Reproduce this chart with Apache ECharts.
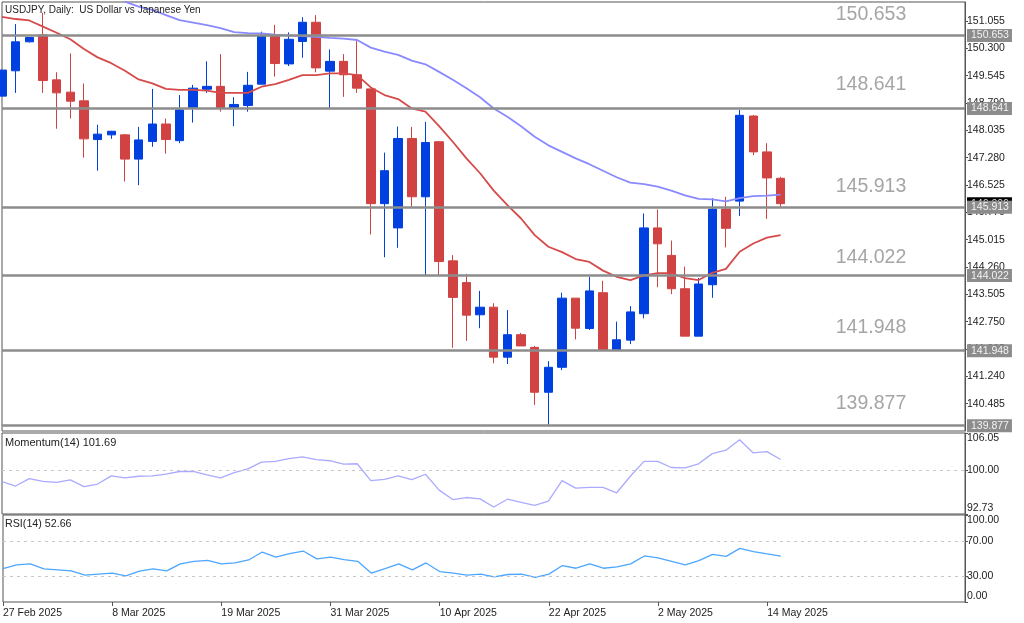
<!DOCTYPE html>
<html>
<head>
<meta charset="utf-8">
<title>USDJPY Daily</title>
<style>
html, body { margin: 0; padding: 0; background: #fff; }
#chart { width: 1024px; height: 623px; }
</style>
<script src="https://cdn.jsdelivr.net/npm/echarts@6/dist/echarts.min.js"></script>
</head>
<body>
<div id="chart"></div>
<script>
// candles, oldest first
const opens = [148.98,149.68,150.48,150.67,149.43,149.09,148.85,147.78,147.91,147.91,147.24,147.73,148.21,147.75,148.65,149.17,149.25,148.66,148.72,149.31,150.64,149.87,150.49,151.02,149.67,149.94,149.57,149.18,146.01,145.34,147.81,146.20,147.72,144.43,143.83,142.94,143.15,141.77,142.39,142.04,140.80,141.49,143.40,142.56,143.55,141.97,142.24,142.97,145.34,144.58,143.66,142.35,143.77,145.86,146.08,148.43,147.44,146.71];
const closes = [149.70,150.48,150.60,149.41,149.07,148.84,147.80,147.93,148.01,147.24,147.77,148.21,147.78,148.60,149.20,149.25,148.65,148.75,149.28,150.64,149.88,150.55,151.02,149.76,149.94,149.57,149.20,146.01,146.92,147.81,146.20,147.70,144.41,143.42,142.93,143.15,141.77,142.39,142.08,140.80,141.49,143.40,142.57,143.60,141.97,142.25,143.02,145.34,144.90,143.66,142.35,143.79,145.86,145.33,148.45,147.44,146.72,146.01];
const lows = [148.98,149.07,150.46,149.07,148.08,148.36,147.28,146.92,147.80,146.62,146.52,147.58,147.39,147.68,148.25,149.07,148.55,148.15,148.55,149.31,149.52,149.81,150.04,149.64,148.64,148.96,149.07,145.16,144.53,144.79,145.93,144.04,144.04,142.03,142.22,142.57,141.60,141.58,142.08,140.45,139.90,141.41,142.26,142.52,141.97,141.97,142.13,142.84,143.70,143.51,142.35,142.35,143.41,144.80,145.67,147.35,145.59,145.91];
const highs = [149.70,150.97,150.61,151.28,149.64,150.16,149.33,148.19,148.02,147.93,148.13,149.18,148.36,149.01,149.29,149.94,150.14,148.95,149.65,150.76,150.95,150.74,151.16,151.22,150.27,150.14,150.50,149.18,147.42,148.14,148.13,148.27,147.74,144.59,144.07,143.60,143.26,143.07,142.44,142.08,141.66,143.55,143.40,143.99,143.88,142.75,143.18,145.74,145.85,144.99,144.27,143.96,146.16,146.20,148.60,148.46,147.68,146.75];

// moving averages
const maRed = [151.17,151.11,151.07,150.90,150.73,150.55,150.28,150.05,149.89,149.68,149.44,149.33,149.18,149.15,149.15,149.13,149.07,149.07,149.07,149.24,149.31,149.43,149.56,149.56,149.61,149.61,149.56,149.22,149.01,148.90,148.64,148.55,148.15,147.72,147.26,146.85,146.37,145.97,145.60,145.14,144.82,144.67,144.48,144.40,144.16,143.99,143.90,144.03,144.09,144.09,143.95,143.90,144.10,144.21,144.68,144.91,145.07,145.14];
const maBlue = [null,null,null,null,null,null,null,null,null,151.59,151.45,151.36,151.22,151.08,151.01,150.94,150.86,150.75,150.72,150.71,150.68,150.66,150.64,150.62,150.59,150.57,150.53,150.32,150.21,150.12,149.96,149.86,149.65,149.43,149.20,148.95,148.64,148.41,148.15,147.86,147.62,147.44,147.26,147.10,146.92,146.74,146.59,146.55,146.48,146.37,146.24,146.14,146.13,146.07,146.16,146.22,146.23,146.26];

// indicators
const momentum = [98.05,97.33,98.55,98.11,97.94,98.33,97.22,97.66,98.99,98.66,98.94,98.99,99.27,99.72,99.72,99.16,98.66,99.55,100.16,101.27,101.38,101.83,102.11,101.66,101.49,100.94,100.99,98.22,98.44,98.99,98.38,99.27,96.66,95.11,95.44,95.22,93.88,95.16,94.66,94.16,94.83,98.22,96.99,97.11,97.11,96.22,98.94,101.38,101.38,100.38,100.33,100.99,102.66,103.22,104.94,102.77,102.99,101.69];
const rsi = [38.4,42.6,43.8,38.0,36.9,35.8,30.8,32.0,33.1,30.1,35.4,38.0,35.8,43.8,46.8,47.9,43.8,44.9,48.3,57.4,51.7,55.5,58.6,49.5,51.7,48.7,46.8,33.1,38.4,43.8,36.9,44.9,35.0,33.1,30.8,32.0,28.9,31.6,32.0,28.2,32.0,41.9,38.8,43.8,38.8,40.3,43.8,52.9,50.6,46.8,42.6,47.6,54.8,52.5,61.6,57.8,55.2,52.66];

// horizontal levels and current price
const levels = [150.653,148.641,145.913,144.022,141.948,139.877];
const lastPrice = 146.006;

// axis ticks
const priceTicks = [151.055,150.300,149.545,148.790,148.035,147.280,146.525,145.770,145.015,144.260,143.505,142.750,141.995,141.240,140.485];
const momentumTicks = [92.73,100,106.05];
const rsiTicks = [0,30,70,100];
const dateTickIndex = [0,8,16,24,32,40,48,56];
const dateLabels = ['27 Feb 2025','8 Mar 2025','19 Mar 2025','31 Mar 2025','10 Apr 2025','22 Apr 2025','2 May 2025','14 May 2025'];

const FONT = 'Liberation Sans';
const TEXT = '#222';
const FRAME = '#555';
const RED = '#d14343';
const BLUE = '#0040e0';
const LEVEL = '#8c8c8c';
const lastX = 70.5;

function indexed(values) {
    return values.map(function (v, i) { return [i, v]; });
}

const candleData = opens.map(function (o, i) {
    return [i, o, closes[i], lows[i], highs[i]];
});

// pixels each big level label sits above its line
const labelLift = [21, 24, 21, 18, 23, 22];

function xAxisFor(gridIndex, showLabels) {
    return {
        type: 'value',
        gridIndex: gridIndex,
        min: 0,
        max: lastX,
        splitLine: {show: false},
        axisLine: {show: false, onZero: false},
        axisTick: showLabels ? {
            show: true,
            length: 4,
            lineStyle: {color: FRAME},
            customValues: dateTickIndex
        } : {show: false},
        axisLabel: showLabels ? {
            show: true,
            customValues: dateTickIndex,
            align: 'left',
            margin: 6,
            fontFamily: FONT,
            fontSize: 10.5,
            color: TEXT,
            formatter: function (v) {
                return dateLabels[dateTickIndex.indexOf(v)] || '';
            }
        } : {show: false}
    };
}

function yAxisFor(gridIndex, min, max, ticks, digits, extra) {
    return {
        type: 'value',
        gridIndex: gridIndex,
        position: 'right',
        min: min,
        max: max,
        scale: true,
        splitLine: {show: false},
        axisLine: {show: true, onZero: false, lineStyle: {color: FRAME}},
        axisTick: {show: true, length: 3, lineStyle: {color: FRAME}, customValues: ticks},
        axisLabel: Object.assign({
            customValues: ticks,
            margin: 2,
            fontFamily: FONT,
            fontSize: 10.5,
            color: TEXT,
            formatter: function (v) { return v.toFixed(digits); }
        }, extra || {})
    };
}

function dashed(value) {
    return {
        yAxis: value,
        label: {show: false},
        lineStyle: {color: '#c8c8c8', type: [3, 4], width: 1}
    };
}

function headText(text, top, size) {
    return {
        text: text,
        left: 5,
        top: top,
        padding: 0,
        textStyle: {fontFamily: FONT, fontSize: size, fontWeight: 'normal', color: TEXT}
    };
}

const option = {
    animation: false,
    backgroundColor: '#fff',
    title: [
        headText('USDJPY, Daily:  US Dollar vs Japanese Yen', 5, 10),
        headText('Momentum(14) 101.69', 437, 11),
        headText('RSI(14) 52.66', 519, 10.7)
    ],
    grid: [
        {left: 2, right: 59, top: 2, height: 429, show: true, borderColor: FRAME, borderWidth: 1},
        {left: 2, right: 59, top: 433, height: 81, show: true, borderColor: FRAME, borderWidth: 1},
        {left: 2, right: 59, top: 515, height: 87, show: true, borderColor: FRAME, borderWidth: 1}
    ],
    xAxis: [xAxisFor(0, false), xAxisFor(1, false), xAxisFor(2, true)],
    yAxis: [
        yAxisFor(0, 139.73, 151.58, priceTicks, 3),
        yAxisFor(1, 92.73, 106.05, momentumTicks, 2, {
            verticalAlignMaxLabel: 'top',
            verticalAlignMinLabel: 'bottom'
        }),
        yAxisFor(2, 0, 100, rsiTicks, 2, {
            verticalAlignMaxLabel: 'top',
            verticalAlignMinLabel: 'bottom'
        })
    ],
    series: [
        {
            name: 'USDJPY',
            type: 'candlestick',
            xAxisIndex: 0,
            yAxisIndex: 0,
            barWidth: 9,
            encode: {x: 0, y: [1, 2, 3, 4]},
            itemStyle: {color: BLUE, color0: RED, borderColor: BLUE, borderColor0: RED, borderWidth: 1},
            data: candleData,
            z: 2
        },
        {
            name: 'MA slow',
            type: 'line',
            xAxisIndex: 0,
            yAxisIndex: 0,
            showSymbol: false,
            lineStyle: {color: '#8a8aff', width: 1.8},
            data: indexed(maBlue),
            z: 3
        },
        {
            name: 'MA fast',
            type: 'line',
            xAxisIndex: 0,
            yAxisIndex: 0,
            showSymbol: false,
            lineStyle: {color: '#d64a4a', width: 1.8},
            data: indexed(maRed),
            z: 3
        },
        {
            name: 'Levels',
            type: 'scatter',
            xAxisIndex: 0,
            yAxisIndex: 0,
            symbolSize: 1,
            itemStyle: {color: 'transparent'},
            z: 4,
            data: levels.map(function (v, i) {
                return {
                    value: [61, v],
                    label: {offset: [0, -labelLift[i]]}
                };
            }),
            label: {
                show: true,
                position: 'right',
                distance: 0,
                fontFamily: FONT,
                fontSize: 19.5,
                color: '#8f8f8f',
                formatter: function (p) { return p.value[1].toFixed(3); }
            },
            markLine: {
                silent: true,
                symbol: 'none',
                precision: 3,
                lineStyle: {color: LEVEL, width: 2.5, type: 'solid'},
                label: {
                    show: true,
                    position: 'end',
                    distance: 2,
                    fontFamily: FONT,
                    fontSize: 10.5,
                    color: '#f2f2f2',
                    backgroundColor: LEVEL,
                    padding: [1, 3, 1, 4],
                    formatter: function (p) { return p.value.toFixed(3); }
                },
                data: [{
                    yAxis: lastPrice,
                    lineStyle: {width: 0, color: 'transparent'},
                    label: {backgroundColor: '#000', color: '#ddd'}
                }].concat(levels.map(function (v) { return {yAxis: v}; }))
            }
        },
        {
            name: 'Momentum(14)',
            type: 'line',
            xAxisIndex: 1,
            yAxisIndex: 1,
            showSymbol: false,
            lineStyle: {color: '#aaaaff', width: 1.3},
            data: indexed(momentum),
            markLine: {silent: true, symbol: 'none', data: [dashed(100)]}
        },
        {
            name: 'RSI(14)',
            type: 'line',
            xAxisIndex: 2,
            yAxisIndex: 2,
            showSymbol: false,
            lineStyle: {color: '#4da6ff', width: 1.3},
            data: indexed(rsi),
            markLine: {silent: true, symbol: 'none', data: [dashed(70), dashed(30)]}
        }
    ]
};

const myChart = echarts.init(document.getElementById('chart'));
myChart.setOption(option);
</script>
</body>
</html>
